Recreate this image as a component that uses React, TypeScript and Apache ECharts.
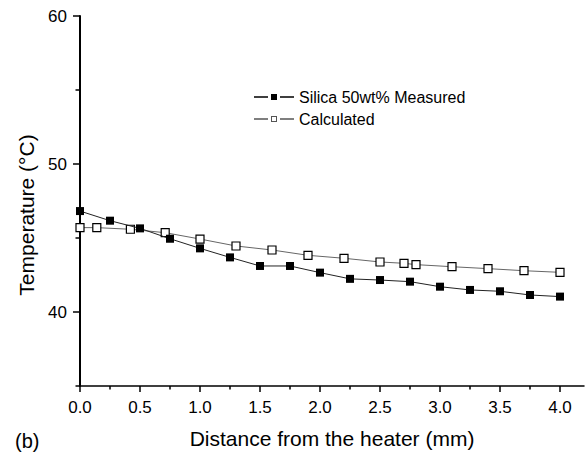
import React, { useEffect, useRef } from "react";
import * as echarts from "echarts";

const measuredX = [0, 0.25, 0.5, 0.75, 1.0, 1.25, 1.5, 1.75, 2.0, 2.25, 2.5, 2.75, 3.0, 3.25, 3.5, 3.75, 4.0];
const measuredY = [46.82, 46.17, 45.65, 44.95, 44.3, 43.69, 43.11, 43.11, 42.66, 42.24, 42.16, 42.05, 41.71, 41.49, 41.4, 41.15, 41.04];

const calcX = [0, 0.14, 0.42, 0.71, 1.0, 1.3, 1.6, 1.9, 2.2, 2.5, 2.7, 2.8, 3.1, 3.4, 3.7, 4.0];
const calcY = [45.7, 45.7, 45.59, 45.36, 44.93, 44.46, 44.19, 43.83, 43.63, 43.38, 43.29, 43.2, 43.06, 42.93, 42.79, 42.68];

const xMajorTicks = [0, 0.5, 1.0, 1.5, 2.0, 2.5, 3.0, 3.5, 4.0];
const xMinorTicks = [0.25, 0.75, 1.25, 1.75, 2.25, 2.75, 3.25, 3.75];
const yMajorTicks = [40, 50, 60];
const yMinorTicks = [35, 45, 55];

const seriesNames = ["Silica 50wt% Measured", "Calculated"];

const FONT = "Liberation Sans, Arial, Helvetica, sans-serif";

export default function App() {
  const ref = useRef<HTMLDivElement>(null);
  useEffect(() => {
    if (!ref.current) return;
    const chart = echarts.init(ref.current, null, { renderer: "svg" });
    const axisCommon = { type: "value" as const, splitLine: { show: false } };
    chart.setOption({
      animation: false,
      backgroundColor: "#fff",
      textStyle: { fontFamily: FONT, color: "#000" },
      grid: { left: 80, right: 1, top: 16, bottom: 71, containLabel: false },
      legend: {
        left: 249,
        top: 84,
        orient: "vertical",
        itemWidth: 40,
        itemHeight: 6,
        itemGap: 6,
        textStyle: { fontFamily: FONT, fontSize: 16, color: "#000" },
        data: [
          {
            name: seriesNames[0],
            icon: "path://M0,2.2h14v1.6h-14z M17,0h6v6h-6z M26,2.2h14v1.6h-14z",
            itemStyle: { color: "#000", borderWidth: 0 },
          },
          {
            name: seriesNames[1],
            icon: "path://M0,2.3h14v1.4h-14z M17,0h6v6h-6z M18,1v4h4v-4z M26,2.3h14v1.4h-14z",
            itemStyle: { color: "#555", borderWidth: 0 },
          },
        ],
      },
      xAxis: [
        {
          ...axisCommon,
          min: 0,
          max: 4.2,
          interval: 0.5,
          axisLine: { show: true, lineStyle: { color: "#000", width: 1.5 } },
          axisTick: { show: true, customValues: xMajorTicks, length: 6, lineStyle: { color: "#000", width: 1.5 } },
          axisLabel: {
            customValues: xMajorTicks,
            formatter: (v: number) => v.toFixed(1),
            fontSize: 17,
            color: "#000",
            fontFamily: FONT,
            margin: 13,
          },
          name: "Distance from the heater (mm)",
          nameLocation: "middle",
          nameGap: 42,
          nameTextStyle: { fontSize: 21, color: "#000", fontFamily: FONT },
        },
        {
          ...axisCommon,
          min: 0,
          max: 4.2,
          interval: 0.5,
          position: "bottom",
          axisLine: { show: false },
          axisTick: { show: true, customValues: xMinorTicks, length: 3.5, lineStyle: { color: "#000", width: 1.5 } },
          axisLabel: { show: false },
        },
      ],
      yAxis: [
        {
          ...axisCommon,
          min: 35,
          max: 60,
          interval: 5,
          axisLine: { show: true, lineStyle: { color: "#000", width: 2 } },
          axisTick: { show: true, customValues: yMajorTicks, length: 7, lineStyle: { color: "#000", width: 1.5 } },
          axisLabel: {
            customValues: yMajorTicks,
            fontSize: 17,
            color: "#000",
            fontFamily: FONT,
            margin: 13,
          },
          name: "Temperature (°C)",
          nameLocation: "middle",
          nameGap: 43,
          nameTextStyle: { fontSize: 21, color: "#000", fontFamily: FONT, padding: [0, 28, 0, 0] },
        },
        {
          ...axisCommon,
          min: 35,
          max: 60,
          interval: 5,
          position: "left",
          axisLine: { show: false },
          axisTick: { show: true, customValues: yMinorTicks, length: 4.5, lineStyle: { color: "#000", width: 1.5 } },
          axisLabel: { show: false },
        },
      ],
      graphic: [
        {
          type: "text",
          left: 15,
          top: 431,
          style: { text: "(b)", fontSize: 20, fontFamily: FONT, fill: "#000" },
        },
      ],
      series: [
        {
          name: seriesNames[1],
          type: "line",
          xAxisIndex: 0,
          yAxisIndex: 0,
          data: calcX.map((x, i) => [x, calcY[i]]),
          symbol: "rect",
          symbolSize: 8,
          lineStyle: { color: "#666", width: 1 },
          itemStyle: { color: "#fff", borderColor: "#000", borderWidth: 1.2 },
          z: 2,
        },
        {
          name: seriesNames[0],
          type: "line",
          xAxisIndex: 0,
          yAxisIndex: 0,
          data: measuredX.map((x, i) => [x, measuredY[i]]),
          symbol: "rect",
          symbolSize: 8,
          lineStyle: { color: "#222", width: 1 },
          itemStyle: { color: "#000", borderWidth: 0 },
          z: 3,
        },
      ],
    });
    return () => chart.dispose();
  }, []);
  return (
    <div
      ref={ref}
      style={{ position: "fixed", left: 0, top: 0, width: 585, height: 457, background: "#fff" }}
    />
  );
}
